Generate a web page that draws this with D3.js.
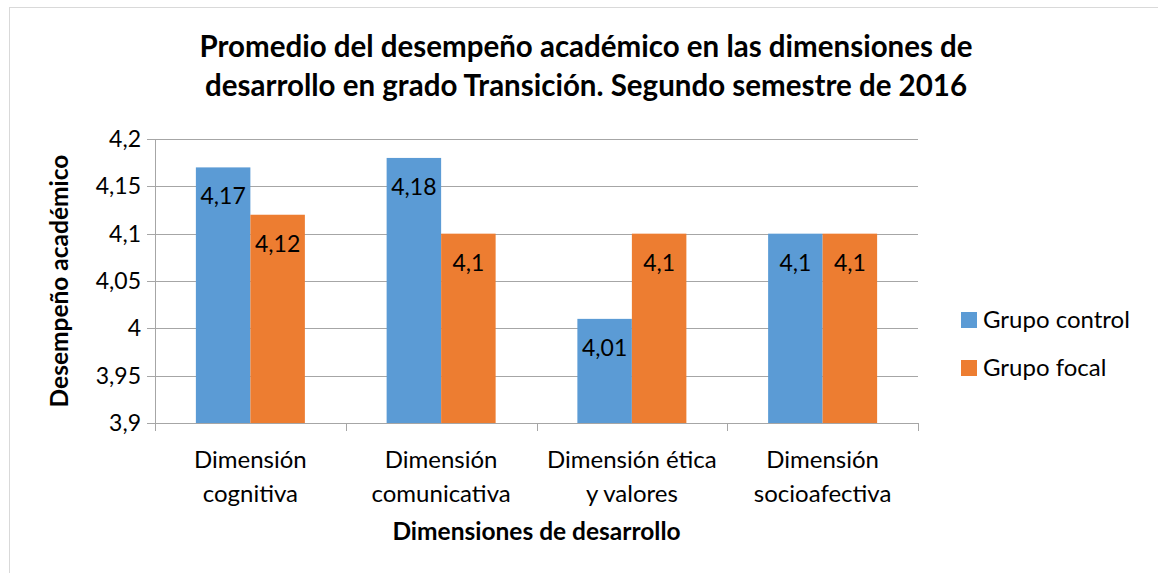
<!DOCTYPE html>
<html>
<head>
<meta charset="utf-8">
<script src="https://cdn.jsdelivr.net/npm/d3@7"></script>
<style>
  body { margin: 0; background: #fff; }
  svg text { font-family: Lato, "Open Sans", sans-serif; fill: #000; }
</style>
</head>
<body>
<div id="chart"></div>
<script>
// chart data
const categories = [
    ["Dimensión", "cognitiva"],
    ["Dimensión", "comunicativa"],
    ["Dimensión ética", "y valores"],
    ["Dimensión", "socioafectiva"]
];
const seriesNames = ["Grupo control", "Grupo focal"];
const controlValues = [4.17, 4.18, 4.01, 4.1];
const focalValues = [4.12, 4.1, 4.1, 4.1];
const yTicks = [3.9, 3.95, 4, 4.05, 4.1, 4.15, 4.2];
const titleLines = [
    "Promedio del desempeño académico en las dimensiones de",
    "desarrollo en grado Transición. Segundo semestre de 2016"
];

const colors = ["#5B9BD5", "#ED7D31"];
const fmt = v => String(v).replace(".", ",");

const W = 1158, H = 573;
const margin = { top: 139, right: 240, bottom: 150, left: 155 },
    width = 918 - margin.left,
    height = 423 - margin.top;

const svg = d3.select("#chart")
    .append("svg")
    .attr("width", W)
    .attr("height", H);

// outer chart border
svg.append("rect")
    .attr("x", 9.5).attr("y", 7.5)
    .attr("width", W).attr("height", H)
    .attr("fill", "none")
    .attr("stroke", "#D9D9D9");

// title
svg.append("g")
    .selectAll("text")
    .data(titleLines)
    .join("text")
    .attr("x", 586)
    .attr("y", (d, i) => 57 + i * 39)
    .attr("text-anchor", "middle")
    .attr("font-weight", "bold")
    .attr("font-size", 29.5)
    .text(d => d);

const plot = svg.append("g")
    .attr("transform", `translate(${margin.left}, ${margin.top})`);

const x0 = d3.scaleBand()
    .domain(d3.range(categories.length))
    .range([0, width])
    .paddingInner(0)
    .paddingOuter(0);

const barW = x0.bandwidth() / 3.5;

const y = d3.scaleLinear()
    .domain([3.9, 4.2])
    .range([height, 0]);

// gridlines
plot.append("g")
    .selectAll("line")
    .data(yTicks)
    .join("line")
    .attr("x1", -8).attr("x2", width)
    .attr("y1", d => Math.round(y(d)) + 0.5)
    .attr("y2", d => Math.round(y(d)) + 0.5)
    .attr("stroke", "#A6A6A6");

// y axis line
plot.append("line")
    .attr("x1", 0.5).attr("x2", 0.5)
    .attr("y1", 0).attr("y2", height)
    .attr("stroke", "#A6A6A6");

// y tick labels
plot.append("g")
    .selectAll("text")
    .data(yTicks)
    .join("text")
    .attr("x", -14)
    .attr("y", d => y(d))
    .attr("dy", "0.35em")
    .attr("text-anchor", "end")
    .attr("font-size", 23)
    .text(d => fmt(d));

// category tick marks
plot.append("g")
    .selectAll("line")
    .data(d3.range(categories.length + 1))
    .join("line")
    .attr("x1", d => Math.round(d * x0.step()) + 0.5)
    .attr("x2", d => Math.round(d * x0.step()) + 0.5)
    .attr("y1", height)
    .attr("y2", height + 8)
    .attr("stroke", "#A6A6A6");

// bars
const rows = categories.map((c, i) => [
    { s: 0, i: i, v: controlValues[i] },
    { s: 1, i: i, v: focalValues[i] }
]).flat();

const barX = d => x0(d.i) + x0.bandwidth() / 2 - barW + d.s * barW;

plot.append("g")
    .selectAll("rect")
    .data(rows)
    .join("rect")
    .attr("x", barX)
    .attr("y", d => y(d.v))
    .attr("width", barW)
    .attr("height", d => height - y(d.v))
    .attr("fill", d => colors[d.s]);

// data labels
plot.append("g")
    .selectAll("text")
    .data(rows)
    .join("text")
    .attr("x", d => barX(d) + barW / 2)
    .attr("y", d => y(d.v) + 29)
    .attr("dy", "0.35em")
    .attr("text-anchor", "middle")
    .attr("font-size", 23)
    .text(d => fmt(d.v));

// category labels
const catG = plot.append("g")
    .selectAll("text")
    .data(categories)
    .join("text")
    .attr("text-anchor", "middle")
    .attr("font-size", 24);
catG.selectAll("tspan")
    .data((d, i) => d.map(t => ({ t: t, i: i })))
    .join("tspan")
    .attr("x", d => x0(d.i) + x0.bandwidth() / 2)
    .attr("y", (d, j) => height + 45 + j * 34)
    .text(d => d.t);

// x axis title
plot.append("text")
    .attr("x", width / 2)
    .attr("y", height + 117)
    .attr("text-anchor", "middle")
    .attr("font-weight", "bold")
    .attr("font-size", 24.5)
    .text("Dimensiones de desarrollo");

// y axis title
svg.append("text")
    .attr("transform", `translate(68, ${margin.top + height / 2}) rotate(-90)`)
    .attr("text-anchor", "middle")
    .attr("font-weight", "bold")
    .attr("font-size", 24.5)
    .text("Desempeño académico");

// legend
const legend = svg.append("g")
    .selectAll("g")
    .data(seriesNames)
    .join("g")
    .attr("transform", (d, i) => `translate(961, ${320 + i * 48})`);
legend.append("rect")
    .attr("x", 0).attr("y", -8)
    .attr("width", 16).attr("height", 16)
    .attr("fill", (d, i) => colors[i]);
legend.append("text")
    .attr("x", 22)
    .attr("dy", "0.35em")
    .attr("font-size", 24)
    .text(d => d);
</script>
</body>
</html>
